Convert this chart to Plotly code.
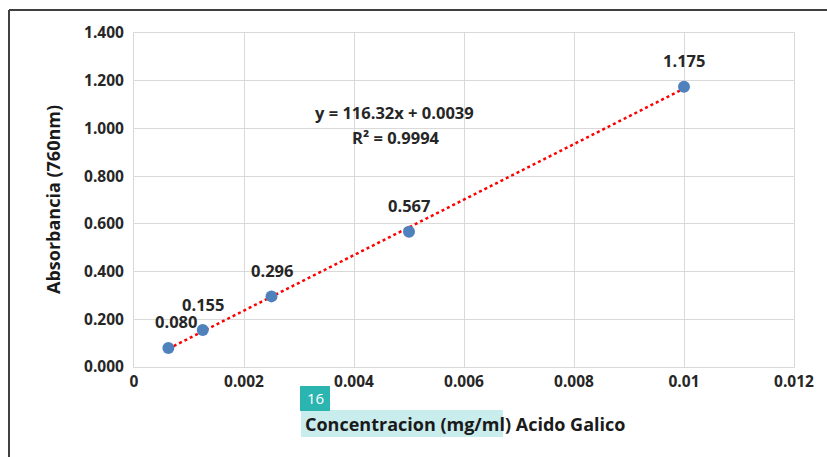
import numpy as np
import plotly.graph_objects as go

conc = [0.000625, 0.00125, 0.0025, 0.005, 0.01]
absorb = [0.080, 0.155, 0.296, 0.567, 1.175]
labels = ["0.080", "0.155", "0.296", "0.567", "1.175"]
label_dx = [8, 0, 0, 0, 0]
x_ticks = [0, 0.002, 0.004, 0.006, 0.008, 0.01, 0.012]
x_ticktext = ["0", "0.002", "0.004", "0.006", "0.008", "0.01", "0.012"]
y_ticks = [0, 0.2, 0.4, 0.6, 0.8, 1.0, 1.2, 1.4]
y_ticktext = ["0.000", "0.200", "0.400", "0.600", "0.800", "1.000", "1.200", "1.400"]

slope, intercept = np.polyfit(conc, absorb, 1)
tx = [conc[0], conc[-1]]
ty = [slope * v + intercept for v in tx]

FONT = "Open Sans"
L, R, T, B = 134, 33, 33, 90
PW, PH = 827 - L - R, 457 - T - B


def px(xp):
    return (xp - L) / PW


def py(yp):
    return (457 - B - yp) / PH


fig = go.Figure()
fig.add_trace(go.Scatter(x=tx, y=ty, mode="lines",
                         line=dict(color="#FF0000", width=2.5, dash="dot"),
                         hoverinfo="skip", showlegend=False))
fig.add_trace(go.Scatter(x=conc, y=absorb, mode="markers",
                         marker=dict(color="#4F81BD", size=12),
                         showlegend=False))

for xv, yv, t, dx in zip(conc, absorb, labels, label_dx):
    fig.add_annotation(x=xv, y=yv, text="<b>%s</b>" % t, showarrow=False,
                       yshift=26, xshift=dx, xanchor="center", yanchor="middle",
                       font=dict(family=FONT, size=16.5, color="#262626"))

fig.add_annotation(xref="paper", yref="paper", x=px(394), y=py(112),
                   xanchor="center", yanchor="middle",
                   text="<b>y = 116.32x + 0.0039</b>", showarrow=False,
                   font=dict(family=FONT, size=16.5, color="#262626"))
fig.add_annotation(xref="paper", yref="paper", x=px(396), y=py(137),
                   xanchor="center", yanchor="middle",
                   text="<b>R² = 0.9994</b>", showarrow=False,
                   font=dict(family=FONT, size=16.5, color="#262626"))

# axis titles
fig.add_shape(type="rect", xref="paper", yref="paper",
              x0=px(301), x1=px(503), y0=py(437), y1=py(410),
              fillcolor="#C9ECEC", line=dict(width=0), layer="below")
fig.add_annotation(xref="paper", yref="paper", x=px(465), y=py(424),
                   xanchor="center", yanchor="middle",
                   text="<b>Concentracion (mg/ml) Acido Galico</b>", showarrow=False,
                   font=dict(family=FONT, size=18, color="#1a1a1a"))
fig.add_shape(type="rect", xref="paper", yref="paper",
              x0=px(300), x1=px(330), y0=py(411), y1=py(386),
              fillcolor="#2BB5B0", line=dict(width=0))
fig.add_annotation(xref="paper", yref="paper", x=px(315), y=py(398),
                   xanchor="center", yanchor="middle",
                   text="16", showarrow=False,
                   font=dict(family=FONT, size=15, color="white"))
fig.add_annotation(xref="paper", yref="paper", x=px(53), y=py(200),
                   xanchor="center", yanchor="middle",
                   text="<b>Absorbancia (760nm)</b>", showarrow=False, textangle=-90,
                   font=dict(family=FONT, size=18, color="#1a1a1a"))

# outer border (left and top)
fig.add_shape(type="line", xref="paper", yref="paper",
              x0=px(9), x1=px(9), y0=py(460), y1=py(10),
              line=dict(color="#404040", width=2))
fig.add_shape(type="line", xref="paper", yref="paper",
              x0=px(9), x1=px(830), y0=py(10), y1=py(10),
              line=dict(color="#404040", width=2))

fig.update_xaxes(range=[0, 0.012], tickvals=x_ticks, ticktext=["<b>%s</b>" % s for s in x_ticktext],
                 showgrid=True, gridcolor="#D9D9D9", gridwidth=1,
                 showline=True, linecolor="#D9D9D9", mirror=True, zeroline=False,
                 tickfont=dict(family=FONT, size=15.5, color="#262626"), ticks="")
fig.update_yaxes(range=[0, 1.4], tickvals=y_ticks, ticktext=["<b>%s</b>" % s for s in y_ticktext],
                 showgrid=True, gridcolor="#D9D9D9", gridwidth=1,
                 showline=True, linecolor="#D9D9D9", mirror=True, zeroline=False,
                 tickfont=dict(family=FONT, size=15.5, color="#262626"), ticks="",
                 ticklabelstandoff=6)

fig.update_layout(width=827, height=457, margin=dict(l=L, r=R, t=T, b=B, autoexpand=False),
                  plot_bgcolor="white", paper_bgcolor="white", showlegend=False)
fig.write_html("out.html", config={"displayModeBar": False})

with open("out.html", "r", encoding="utf-8") as f:
    html = f.read()
html = html.replace("<head>", "<head><style>html,body{margin:0;padding:0;overflow:hidden;}</style>", 1)
with open("out.html", "w", encoding="utf-8") as f:
    f.write(html)
